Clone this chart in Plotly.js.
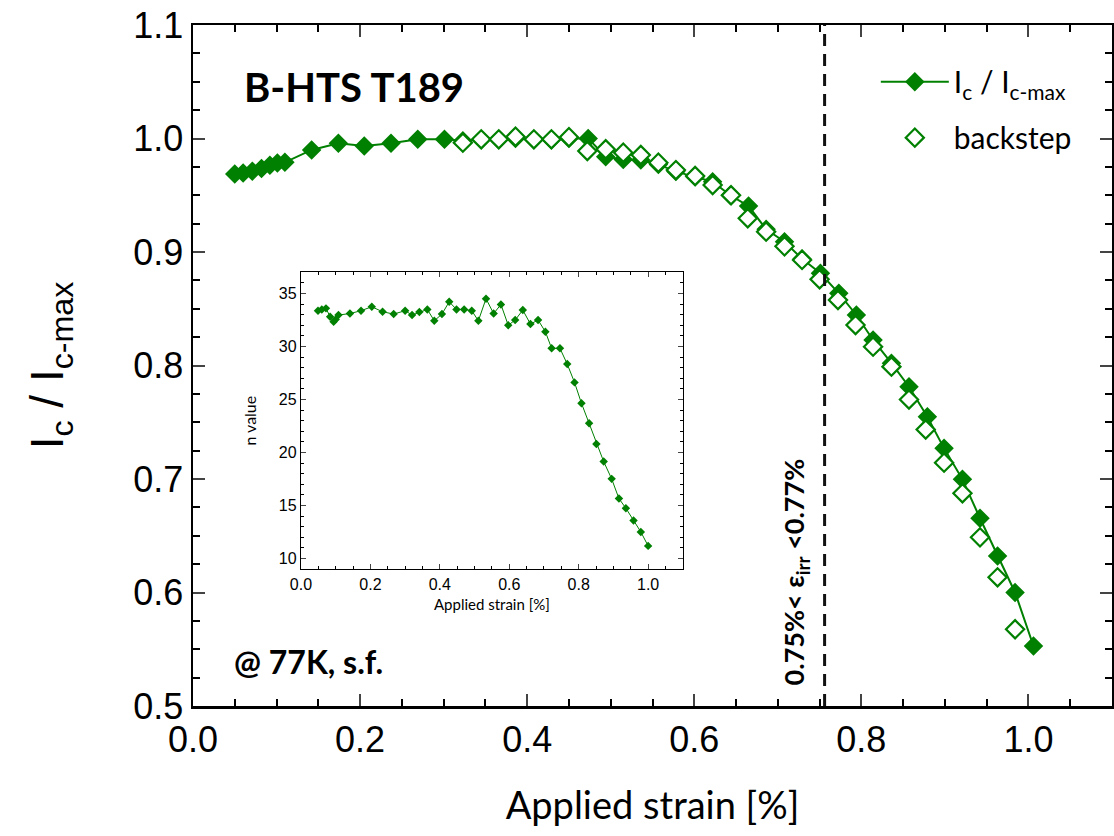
<!DOCTYPE html>
<html>
<head>
<meta charset="utf-8">
<script src="https://cdn.plot.ly/plotly-3.0.1.min.js"></script>
<style>html,body{margin:0;padding:0;background:#fff;}#chart{width:1114px;height:836px;}</style>
</head>
<body>
<div id="chart"></div>
<script>
// Main panel: Ic / Ic-max vs applied strain (filled series)
const strainMain = [0.050,0.060,0.071,0.082,0.092,0.101,0.110,0.142,0.174,0.205,0.237,0.269,0.301,
  0.323,0.345,0.366,0.386,0.408,0.429,0.450,0.473,0.494,0.515,0.536,0.557,0.578,0.601,0.622,0.643,
  0.665,0.686,0.708,0.729,0.751,0.773,0.794,0.814,0.836,0.857,0.879,0.899,0.921,0.942,0.963,0.984,1.006];
const icMain = [0.9687,0.9695,0.9712,0.9735,0.9765,0.9785,0.9790,0.9899,0.9958,0.9934,0.9958,0.9993,0.9993,
  0.998,0.999,0.999,1.000,0.999,0.999,1.000,1.000,0.984,0.9815,0.981,0.977,0.971,0.966,0.962,0.950,
  0.9405,0.920,0.909,0.894,0.8812,0.8636,0.8445,0.8225,0.802,0.7813,0.7549,0.727,0.6997,0.6654,0.6322,0.600,0.5529];

// Backstep series (open diamonds)
const strainBack = [0.323,0.345,0.366,0.386,0.408,0.429,0.450,0.472,0.494,0.515,0.536,0.557,0.578,0.601,
  0.622,0.644,0.664,0.686,0.708,0.729,0.750,0.772,0.793,0.814,0.836,0.857,0.877,0.899,0.921,0.942,0.963,0.984];
const icBack = [0.9963,0.9993,0.9993,1.0016,0.9993,0.9993,1.0012,0.989,0.9905,0.9875,0.9855,0.9787,0.9722,0.967,
  0.959,0.950,0.9297,0.9179,0.905,0.893,0.876,0.8577,0.8357,0.8166,0.799,0.770,0.7436,0.7144,0.6874,0.6486,0.6134,0.5676];

// Inset: n value vs applied strain
const strainInset = [0.049,0.060,0.072,0.084,0.094,0.100,0.108,0.141,0.173,0.204,0.235,0.267,0.300,0.320,0.341,
  0.364,0.384,0.406,0.427,0.448,0.470,0.492,0.511,0.533,0.555,0.576,0.597,0.617,0.639,0.661,0.683,0.704,0.722,
  0.746,0.767,0.788,0.808,0.830,0.851,0.872,0.895,0.916,0.936,0.958,0.979,1.000];
const nValue = [33.37,33.49,33.59,32.8,32.33,32.55,32.96,33.1,33.37,33.74,33.27,33.05,33.37,32.96,33.24,
  33.49,32.42,33.05,34.21,33.49,33.49,33.37,32.42,34.5,33.1,33.96,32.0,32.49,33.43,32.11,32.49,31.39,29.82,
  29.82,28.34,26.61,24.64,22.75,20.80,19.14,17.51,15.65,14.74,13.58,12.51,11.19];

const irrStrain = 0.756;
const green = '#008000';
const arial = 'Liberation Sans, Arial, sans-serif';
const tickFont = {family: arial, size: 36, color: '#000'};
const labelFont = 'Lato, Calibri, sans-serif';

const traces = [
  {x: strainMain, y: icMain, type: 'scatter', mode: 'lines+markers',
   name: 'I<sub>c</sub> / I<sub>c-max</sub>', legendgroup: 'a',
   line: {color: green, width: 2},
   marker: {symbol: 'diamond', size: 15, color: green}},
  {x: strainBack, y: icBack, type: 'scatter', mode: 'markers', name: 'backstep', legendgroup: 'b',
   marker: {symbol: 'diamond', size: 14, color: '#fff', line: {color: green, width: 2.2}}},
  {x: strainInset, y: nValue, type: 'scatter', mode: 'lines+markers', xaxis: 'x2', yaxis: 'y2',
   showlegend: false, line: {color: green, width: 1},
   marker: {symbol: 'diamond', size: 6.5, color: green}}
];

const layout = {
  width: 1114, height: 836,
  margin: {l: 193, r: 2, t: 25, b: 130},
  paper_bgcolor: '#fff', plot_bgcolor: '#fff',
  showlegend: true,
  legend: {x: 0.743, y: 0.955, xanchor: 'left', yanchor: 'top', bgcolor: 'rgba(0,0,0,0)',
           font: {family: labelFont, size: 30, color: '#000'}, itemwidth: 68, tracegroupgap: 14},
  xaxis: {range: [0, 1.1], dtick: 0.2, tick0: 0, tickformat: '.1f', ticks: 'inside', ticklen: 12, tickwidth: 2,
          showline: true, linewidth: 2.5, linecolor: '#000', mirror: 'allticks', showgrid: false, zeroline: false,
          tickfont: tickFont,
          minor: {dtick: 0.05, ticks: 'inside', ticklen: 7, tickwidth: 2, tickcolor: '#000', showgrid: false},
          title: {text: 'Applied strain [%]', font: {family: labelFont, size: 38, color: '#000'}, standoff: 34}},
  yaxis: {range: [0.5, 1.1], dtick: 0.1, tick0: 0.5, tickformat: '.1f', ticks: 'inside', ticklen: 12, tickwidth: 2,
          showline: true, linewidth: 2.5, linecolor: '#000', mirror: 'allticks', showgrid: false, zeroline: false,
          tickfont: tickFont,
          minor: {dtick: 0.025, ticks: 'inside', ticklen: 7, tickwidth: 2, tickcolor: '#000', showgrid: false},
          title: {text: 'I<sub>c</sub> / I<sub>c-max</sub>', font: {family: arial, size: 46, color: '#000'}, standoff: 55}},
  xaxis2: {domain: [0.1175, 0.533], anchor: 'y2', range: [0, 1.1], dtick: 0.2, tick0: 0, tickformat: '.1f',
           ticks: 'inside', ticklen: 5, tickwidth: 1, showline: true, linewidth: 1.2, linecolor: '#000', mirror: 'allticks',
           showgrid: false, zeroline: false, tickfont: {family: arial, size: 16, color: '#000'},
           minor: {dtick: 0.05, ticks: 'inside', ticklen: 3, tickwidth: 1, tickcolor: '#000', showgrid: false},
           title: {text: 'Applied strain [%]', font: {family: labelFont, size: 15, color: '#000'}, standoff: 8}},
  yaxis2: {domain: [0.201, 0.637], anchor: 'x2', range: [9, 37], dtick: 5, tick0: 10,
           ticks: 'inside', ticklen: 5, tickwidth: 1, showline: true, linewidth: 1.2, linecolor: '#000', mirror: 'allticks',
           showgrid: false, zeroline: false, tickfont: {family: arial, size: 16, color: '#000'},
           minor: {dtick: 1, ticks: 'inside', ticklen: 3, tickwidth: 1, tickcolor: '#000', showgrid: false},
           title: {text: 'n value', font: {family: labelFont, size: 16, color: '#000'}, standoff: 18}},
  shapes: [
    {type: 'rect', xref: 'x2 domain', yref: 'y2 domain', x0: 0, x1: 1, y0: 0, y1: 1,
     fillcolor: '#fff', line: {width: 0}, layer: 'below'},
    {type: 'line', xref: 'x', yref: 'paper', x0: irrStrain, x1: irrStrain, y0: 0, y1: 1,
     line: {color: '#111', width: 3, dash: '12px,8px'}}
  ],
  annotations: [
    {xref: 'x', yref: 'y', x: 0.193, y: 1.045, text: '<b>B-HTS T189</b>', showarrow: false,
     font: {family: labelFont, size: 40, color: '#000'}},
    {xref: 'x', yref: 'y', x: 0.138, y: 0.539, text: '<b>@ 77K, s.f.</b>', showarrow: false,
     font: {family: labelFont, size: 32, color: '#000'}},
    {xref: 'x', yref: 'y', x: 0.721, y: 0.618, text: '<b>0.75%&lt; ε<sub>irr</sub> &lt;0.77%</b>', showarrow: false,
     textangle: -90, font: {family: labelFont, size: 27, color: '#000'}}
  ]
};

Plotly.newPlot('chart', traces, layout, {displayModeBar: false, staticPlot: true});
</script>
</body>
</html>
